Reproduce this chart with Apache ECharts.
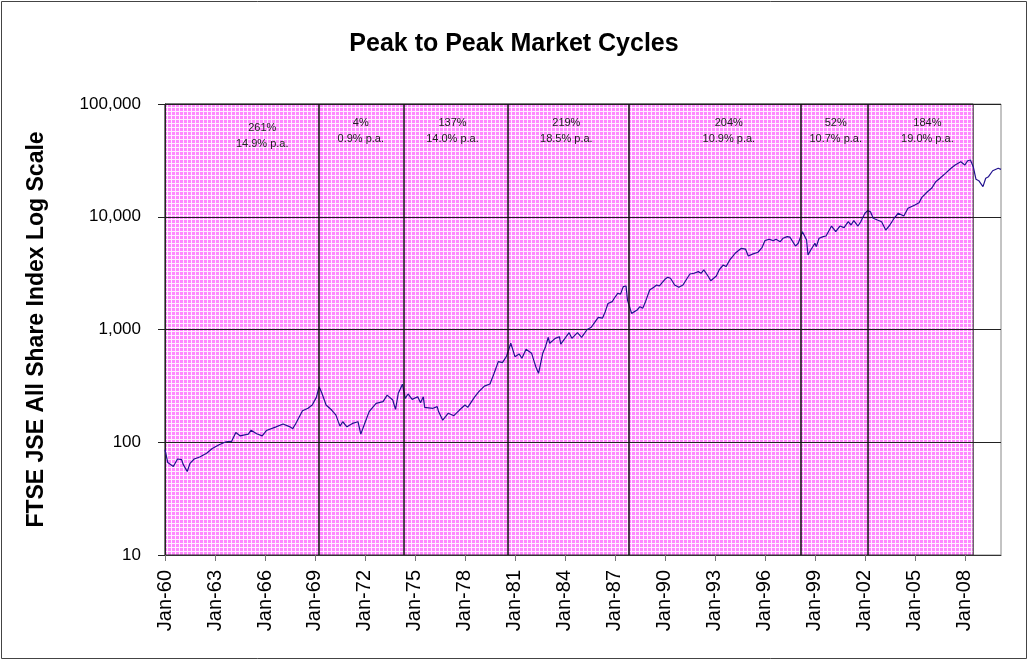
<!DOCTYPE html>
<html>
<head>
<meta charset="utf-8">
<script src="https://cdn.jsdelivr.net/npm/echarts@6/dist/echarts.min.js"></script>
<style>
html,body{margin:0;padding:0;background:#fff;}
#chart{width:1028px;height:660px;}
</style>
</head>
<body>
<div id="chart"></div>
<script>
// index level by month
var dates = [
'1960-01','1960-03','1960-07','1960-10','1961-01','1961-02','1961-05','1961-07','1961-10','1962-02',
'1962-07','1962-11','1963-04','1963-09','1964-01','1964-04','1964-07','1965-01','1965-03','1965-07',
'1965-11','1966-02','1966-09','1967-02','1967-07','1967-09','1967-11','1968-04','1968-08','1968-11',
'1969-02','1969-04','1969-06','1969-09','1970-01','1970-04','1970-07','1970-09','1970-12','1971-04',
'1971-08','1971-10','1972-01','1972-04','1972-09','1973-02','1973-05','1973-09','1973-11','1974-01',
'1974-04','1974-06','1974-08','1974-11','1975-03','1975-05','1975-07','1975-08','1976-02','1976-05',
'1976-06','1976-09','1977-01','1977-05','1977-09','1978-01','1978-03','1978-08','1978-11','1979-03',
'1979-07','1979-10','1980-01','1980-04','1980-07','1980-10','1981-01','1981-04','1981-06','1981-09',
'1982-01','1982-04','1982-06','1982-09','1982-11','1983-01','1983-02','1983-06','1983-09','1983-10',
'1984-01','1984-04','1984-06','1984-10','1985-01','1985-05','1985-08','1986-01','1986-04','1986-06',
'1986-08','1986-11','1987-01','1987-03','1987-05','1987-07','1987-09','1987-10','1988-01','1988-05',
'1988-07','1988-09','1988-11','1989-02','1989-05','1989-07','1989-09','1990-01','1990-03','1990-05',
'1990-08','1990-11','1991-02','1991-05','1991-07','1991-10','1992-01','1992-03','1992-05','1992-08',
'1992-10','1993-02','1993-04','1993-07','1993-09','1993-12','1994-01','1994-04','1994-08','1994-11',
'1995-01','1995-04','1995-08','1995-11','1996-01','1996-04','1996-07','1996-09','1996-12','1997-02',
'1997-05','1997-07','1997-11','1998-01','1998-04','1998-07','1998-08','1998-10','1999-01','1999-02',
'1999-04','1999-07','1999-09','2000-01','2000-04','2000-07','2000-10','2001-01','2001-03','2001-05',
'2001-08','2001-10','2002-01','2002-03','2002-05','2002-07','2002-10','2003-01','2003-04','2003-07',
'2003-10','2004-01','2004-05','2004-08','2005-01','2005-04','2005-06','2005-10','2006-01','2006-04',
'2006-07','2006-11','2007-03','2007-06','2007-10','2008-01','2008-03','2008-05','2008-07','2008-09',
'2008-11','2009-02','2009-04','2009-06','2009-09','2010-01','2010-03'
];
var values = [
86,66,61,71,70,64,55,65,71,74,
80,88,95,101,102,122,114,118,128,119,
114,127,137,145,137,132,145,190,200,214,
250,311,272,214,193,175,139,152,137,147,
152,118,149,187,221,229,262,237,196,272,
327,245,268,240,253,224,253,204,200,207,
187,157,181,172,193,214,204,253,281,315,
329,409,519,508,582,755,574,607,556,667,
615,468,409,615,704,853,755,835,863,743,
835,937,835,937,853,1000,1048,1280,1260,1439,
1700,1766,1932,2095,2060,2400,2432,1828,1390,1489,
1593,1540,1766,2240,2368,2483,2432,2788,2906,2850,
2483,2368,2483,2850,3105,3153,3260,3153,3376,2980,
2710,2980,3376,3733,3613,4197,4369,4800,5250,5170,
4487,4665,4843,5357,6137,6310,6137,6310,6011,6440,
6656,6590,5504,5820,7366,6220,4580,5070,5820,5430,
6440,6656,6750,8270,7366,8270,8000,9036,8450,9230,
8270,9036,10740,11330,11070,9690,9350,9036,7620,8450,
9690,10740,10160,11890,12700,13330,14860,16670,17870,20460,
21930,24270,26900,28780,30790,28780,31400,31860,27800,21480,
20890,18490,21930,22650,25600,26900,26300
];

// market peaks bounding each cycle
var peakDates = ['1960-01','1969-04','1974-05','1980-08','1987-11','1998-03','2002-03','2008-07'];
var cycleGain = ['261%','4%','137%','219%','204%','52%','184%'];
var cycleRate = ['14.9% p.a.','0.9% p.a.','14.0% p.a.','18.5% p.a.','10.9% p.a.','10.7% p.a.','19.0% p.a.'];
var labelDates = ['1965-11','1971-10','1977-04','1984-02','1993-11','2000-04','2005-10'];
var labelLevels = [52000,57800,57800,57800,57800,57800,57800];

var yTicks = [10,100,1000,10000,100000];

// months since Jan-60
function toM(s){
    var p = s.split('-');
    return (parseInt(p[0],10) - 1960) * 12 + parseInt(p[1],10) - 1;
}

var lineData = [];
for (var i = 0; i < dates.length; i++) {
    lineData.push([toM(dates[i]), values[i]]);
}

var peakLines = [];
for (var i = 1; i < peakDates.length - 1; i++) {
    peakLines.push({xAxis: toM(peakDates[i])});
}

var cycleLabels = [];
for (var i = 0; i < cycleGain.length; i++) {
    cycleLabels.push({
        name: cycleGain[i] + '\n' + cycleRate[i],
        coord: [toM(labelDates[i]), labelLevels[i]]
    });
}

// hatched pink fill
var pat = document.createElement('canvas');
pat.width = 4; pat.height = 4;
var pc = pat.getContext('2d');
pc.fillStyle = '#fff0ff';
pc.fillRect(0,0,4,4);
pc.fillStyle = '#ff88ff';
pc.fillRect(0,0,3,3);

var font = "'Liberation Sans', Arial, sans-serif";

var chart = echarts.init(document.getElementById('chart'));
chart.setOption({
    animation: false,
    backgroundColor: '#fff',
    title: {
        text: 'Peak to Peak Market Cycles',
        left: 'center',
        top: 27,
        textStyle: {fontFamily: font, fontSize: 25, fontWeight: 'bold', color: '#000'}
    },
    graphic: [{
        type: 'rect',
        shape: {x: 1.5, y: 1.5, width: 1025, height: 657},
        style: {fill: 'none', stroke: '#444', lineWidth: 1},
        silent: true
    }],
    grid: {
        left: 165, right: 27, top: 104, bottom: 105,
        show: true, borderColor: '#888', borderWidth: 1, backgroundColor: '#fff'
    },
    xAxis: {
        type: 'value',
        min: 0,
        max: 602,
        interval: 36,
        z: 3,
        axisLine: {show: true, onZero: false, lineStyle: {color: '#333'}},
        axisTick: {show: true, length: 6, lineStyle: {color: '#777'}},
        splitLine: {show: false},
        axisLabel: {
            rotate: 90,
            margin: 15,
            fontFamily: font,
            fontSize: 20,
            color: '#000',
            showMaxLabel: false,
            formatter: function (v) {
                if (v % 36 !== 0) return '';
                var yr = (60 + v / 12) % 100;
                return 'Jan-' + (yr < 10 ? '0' + yr : yr);
            }
        }
    },
    yAxis: {
        type: 'log',
        logBase: 10,
        min: yTicks[0],
        max: yTicks[yTicks.length - 1],
        z: 3,
        name: 'FTSE JSE All Share Index Log Scale',
        nameLocation: 'middle',
        nameGap: 117,
        nameTextStyle: {fontFamily: font, fontSize: 23, fontWeight: 'bold', color: '#000'},
        axisLine: {show: true, lineStyle: {color: '#222'}},
        axisTick: {show: true, length: 7, lineStyle: {color: '#222'}},
        splitLine: {show: true, lineStyle: {color: '#222', width: 1}},
        minorTick: {show: false},
        axisLabel: {
            fontFamily: font,
            fontSize: 17,
            color: '#000',
            margin: 24,
            formatter: function (v) { return Number(v).toLocaleString('en-US'); }
        }
    },
    series: [
        {
            name: 'cycles',
            type: 'line',
            data: [],
            z: 2,
            silent: true,
            markArea: {
                silent: true,
                itemStyle: {color: {image: pat, repeat: 'repeat'}, opacity: 1, borderColor: '#333', borderWidth: 1},
                data: [[{xAxis: toM(peakDates[0]), yAxis: yTicks[yTicks.length - 1]},
                        {xAxis: toM(peakDates[peakDates.length - 1]), yAxis: yTicks[0]}]]
            },
            markLine: {
                silent: true,
                symbol: ['none', 'none'],
                label: {show: false},
                lineStyle: {color: '#111', width: 1.5, type: 'solid'},
                data: peakLines
            },
            markPoint: {
                silent: true,
                symbol: 'circle',
                symbolSize: 0,
                label: {
                    show: true,
                    position: 'inside',
                    formatter: function (p) { return p.name; },
                    fontFamily: font,
                    fontSize: 11,
                    lineHeight: 16,
                    color: '#222'
                },
                data: cycleLabels
            }
        },
        {
            name: 'FTSE JSE All Share',
            type: 'line',
            data: lineData,
            z: 4,
            showSymbol: false,
            lineStyle: {color: '#23138f', width: 1.2},
            itemStyle: {color: '#23138f'}
        }
    ]
});
</script>
</body>
</html>
